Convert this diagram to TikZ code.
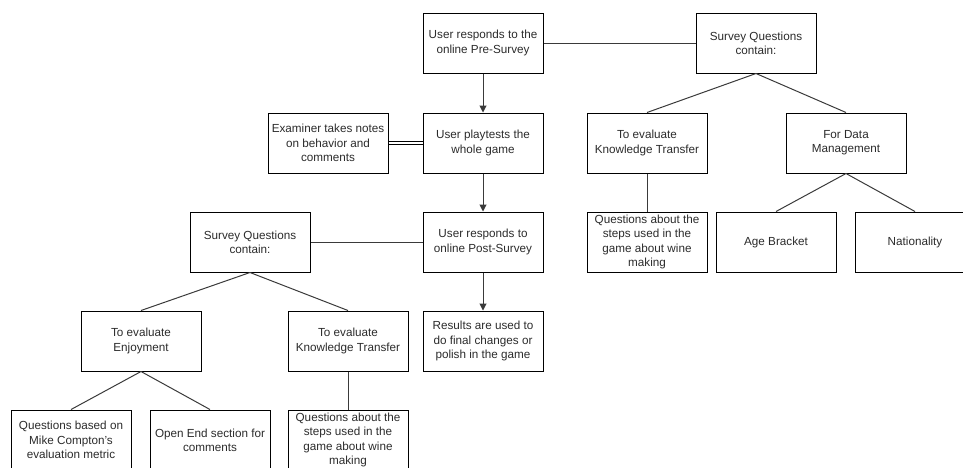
\documentclass[tikz,border=0pt]{standalone}
\usepackage{fontspec}
\setmainfont{Liberation Sans}
\usetikzlibrary{arrows.meta}
\definecolor{inkgray}{HTML}{2B2B2B}
\definecolor{linegray}{HTML}{3A3A3A}
\begin{document}
\begin{tikzpicture}[x=1pt,y=-1pt,
  box/.style={draw=black, line width=1pt, minimum width=120pt, minimum height=60pt,
    inner sep=0pt, align=center, text=inkgray, font=\fontsize{11.7}{14.2}\selectfont},
  link/.style={draw=linegray, line width=1pt},
  flow/.style={link, -{Triangle[length=7pt,width=7pt]}},
  twin/.style={draw=black, line width=0.9pt, double, double distance=2.6pt}]
\useasboundingbox (0,0) rectangle (963,467);
\clip (0,0) rectangle (963,467);

% main flow
\node[box] (pre)  at (483,43)  {User responds to the\\online Pre-Survey};
\node[box] (play) at (483,143) {User playtests the\\whole game};
\node[box] (exam) at (328,143) {Examiner takes notes\\on behavior and\\comments};
\node[box] (post) at (483,242) {User responds to\\online Post-Survey};
\node[box] (res)  at (483,341) {Results are used to\\do final changes or\\polish in the game};

% post-survey contents
\node[box] (sqL)  at (250,242) {Survey Questions\\contain:};
\node[box] (enj)  at (141,341) {To evaluate\\Enjoyment};
\node[box] (ktL)  at (348,341) {To evaluate\\Knowledge Transfer};
\node[box] (mike) at (71,440)  {Questions based on\\Mike Compton's\\evaluation metric};
\node[box] (open) at (210,440) {Open End section for\\comments};
\node[box] (qL)   at (348,440) {Questions about the\\steps used in the\\game about wine\\making};

% pre-survey contents
\node[box] (sqR)  at (756,43)  {Survey Questions\\contain:};
\node[box] (ktR)  at (647,143) {To evaluate\\Knowledge Transfer};
\node[box] (dm)   at (846,143) {For Data\\Management};
\node[box] (qR)   at (647,242) {Questions about the\\steps used in the\\game about wine\\making};
\node[box] (age)  at (776,242) {Age Bracket};
\node[box] (nat)  at (915,242) {Nationality};

% connectors
\draw[flow] (pre.south) -- (play.north);
\draw[flow] (play.south) -- (post.north);
\draw[flow] (post.south) -- (res.north);
\draw[twin] (exam.east) -- (play.west);

\draw[link] (pre.east) -- (sqR.west);
\draw[link] (sqR.south) -- (ktR.north);
\draw[link] (sqR.south) -- (dm.north);
\draw[link] (ktR.south) -- (qR.north);
\draw[link] (dm.south) -- (age.north);
\draw[link] (dm.south) -- (nat.north);

\draw[link] (post.west) -- (sqL.east);
\draw[link] (sqL.south) -- (enj.north);
\draw[link] (sqL.south) -- (ktL.north);
\draw[link] (enj.south) -- (mike.north);
\draw[link] (enj.south) -- (open.north);
\draw[link] (ktL.south) -- (qL.north);
\end{tikzpicture}
\end{document}
